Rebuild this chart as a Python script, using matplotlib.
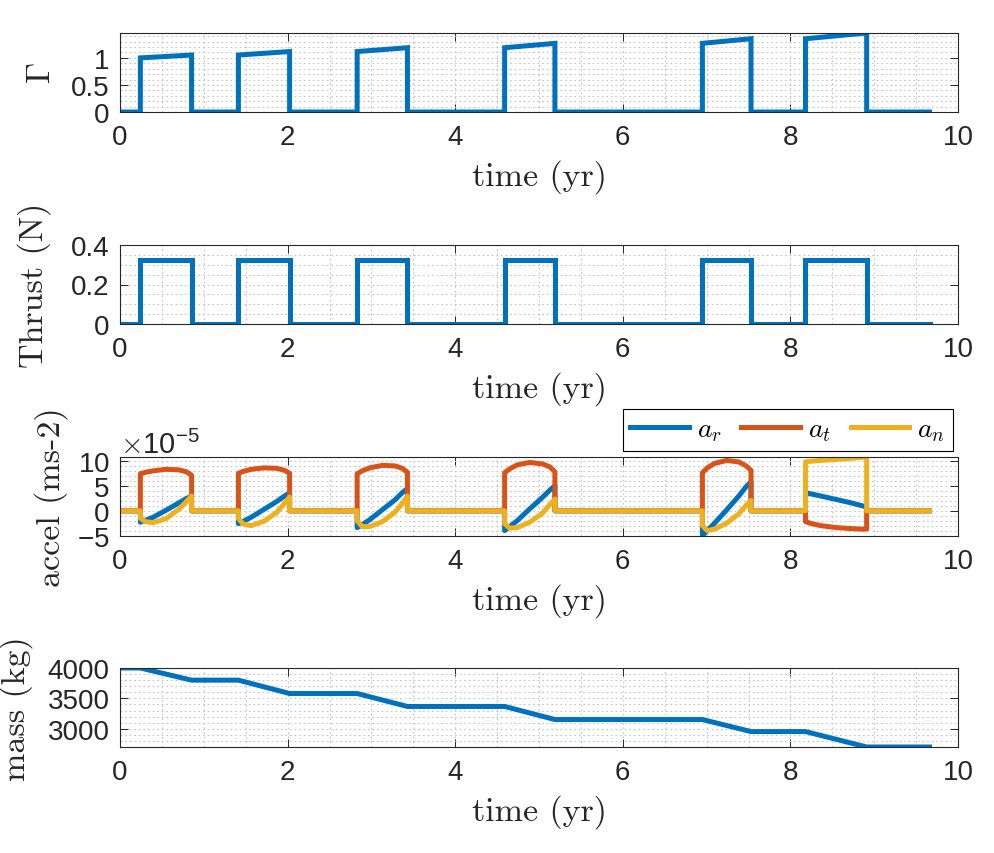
import matplotlib
matplotlib.use("Agg")
import matplotlib.pyplot as plt
from matplotlib.ticker import MultipleLocator, FixedLocator, ScalarFormatter, FuncFormatter
import numpy as np

# ---------------- data ----------------
burn_start = [0.243, 1.413, 2.83, 4.59, 6.95, 8.18]
burn_end = [0.854, 2.024, 3.43, 5.19, 7.53, 8.91]
t_final = 9.66

gamma_start = [1.00, 1.053, 1.117, 1.188, 1.269, 1.354]
gamma_end = [1.053, 1.117, 1.188, 1.269, 1.354, 1.46]

thrust_on = [0.325, 0.325, 0.325, 0.325, 0.325, 0.325]

mass_levels = [4000, 3800, 3580, 3367, 3152, 2954, 2700]

# accelerations (x1e-5 m/s^2) sampled at fractions of each burn
burn_frac = [0.0, 0.1, 0.25, 0.5, 0.75, 0.9, 1.0]
a_r = [
    [-2.3, -1.9, -1.3, 0.1, 1.6, 2.5, 3.0],
    [-2.6, -2.1, -1.3, 0.3, 1.9, 3.0, 3.6],
    [-3.4, -2.8, -1.8, 0.2, 2.2, 3.7, 4.5],
    [-4.0, -3.2, -2.0, 0.4, 2.7, 4.2, 5.1],
    [-5.0, -4.0, -2.5, 0.2, 3.0, 4.9, 5.9],
    [3.7, 3.4, 3.0, 2.3, 1.6, 1.1, 0.8],
]
a_t = [
    [7.5, 7.8, 8.1, 8.4, 8.3, 7.9, 7.2],
    [7.6, 8.0, 8.4, 8.7, 8.6, 8.2, 7.6],
    [7.5, 8.1, 8.7, 9.2, 9.1, 8.6, 7.8],
    [7.7, 8.5, 9.3, 9.8, 9.5, 8.9, 7.9],
    [7.7, 8.7, 9.6, 10.2, 9.9, 9.1, 8.2],
    [-2.2, -2.6, -3.0, -3.4, -3.6, -3.7, -3.7],
]
a_n = [
    [-1.5, -2.2, -2.4, -1.6, 0.3, 1.9, 3.0],
    [-1.6, -2.7, -3.0, -2.1, -0.3, 1.5, 2.8],
    [-2.0, -3.2, -3.2, -2.2, -0.3, 1.5, 3.0],
    [-2.6, -3.5, -3.4, -2.3, -0.5, 1.3, 2.4],
    [-3.0, -4.0, -3.7, -2.5, -0.6, 1.1, 2.1],
    [9.9, 10.05, 10.2, 10.4, 10.65, 10.8, 10.9],
]
accel_scale = 1e-5
accel_labels = [r"$a_r$", r"$a_t$", r"$a_n$"]

xticks = [0, 2, 4, 6, 8, 10]

# ---------------- build series ----------------
def step_series(on_start, on_end, off=0.0):
    t, y = [0.0], [off]
    for s, e, v0, v1 in zip(burn_start, burn_end, on_start, on_end):
        t += [s, s, e, e]
        y += [off, v0, v1, off]
    t.append(t_final)
    y.append(off)
    return np.array(t), np.array(y)

def mass_series():
    t, y = [0.0], [mass_levels[0]]
    for i, (s, e) in enumerate(zip(burn_start, burn_end)):
        t += [s, e]
        y += [mass_levels[i], mass_levels[i + 1]]
    t.append(t_final)
    y.append(mass_levels[-1])
    return np.array(t), np.array(y)

def accel_series(vals):
    t, y = [0.0], [0.0]
    for s, e, v in zip(burn_start, burn_end, vals):
        t.append(s)
        y.append(0.0)
        for f, a in zip(burn_frac, v):
            t.append(s + f * (e - s))
            y.append(a * accel_scale)
        t.append(e)
        y.append(0.0)
    t.append(t_final)
    y.append(0.0)
    return np.array(t), np.array(y)

# ---------------- style ----------------
plt.rcParams["font.family"] = ["Liberation Sans", "DejaVu Sans"]
plt.rcParams["mathtext.fontset"] = "cm"
plt.rcParams["axes.unicode_minus"] = False

blue = "#0072BD"
orange = "#D95319"
yellow = "#EDB120"
axcol = "#262626"
LW = 3.6
TICK_FS = 20
LAB_FS = 24.5

fig = plt.figure(figsize=(9.94, 8.54), dpi=100)
W, H = 994, 854
left = 120 / W
width = 838 / W
height = 79 / H
tops = [34, 246, 458, 669]
axes = [fig.add_axes([left, 1 - (tp + 79) / H, width, height]) for tp in tops]

def style(ax, ylim, ymaj, ymin_step, ylabel, label_x, fmt=None):
    ax.set_xlim(0, 10)
    ax.set_ylim(*ylim)
    ax.xaxis.set_major_locator(FixedLocator(xticks))
    ax.xaxis.set_minor_locator(MultipleLocator(0.5))
    ax.yaxis.set_major_locator(FixedLocator(ymaj))
    ax.yaxis.set_minor_locator(MultipleLocator(ymin_step))
    if fmt is not None:
        ax.yaxis.set_major_formatter(fmt)
    ax.set_xticklabels([str(v) for v in xticks])
    ax.tick_params(which="major", direction="in", length=5.5, width=0.7,
                   top=True, right=True, colors=axcol, labelsize=TICK_FS)
    ax.tick_params(axis="x", which="major", pad=8.5)
    ax.tick_params(axis="y", which="major", pad=7.5)
    ax.tick_params(which="minor", length=0, top=True, right=True)
    for sp in ax.spines.values():
        sp.set_color(axcol)
        sp.set_linewidth(0.8)
    ax.grid(True, which="both", color="#c4c4c4", linestyle=(0, (1.6, 2.8)),
            linewidth=0.75)
    ax.set_axisbelow(True)
    ax.set_xlabel("time (yr)", fontfamily="cmr10", fontsize=LAB_FS, color=axcol)
    ax.xaxis.set_label_coords(0.5, -0.60)
    ax.set_ylabel(ylabel, fontsize=LAB_FS, color=axcol,
                  fontfamily="cmr10" if not ylabel.startswith("$") else None)
    ax.yaxis.set_label_coords(label_x, 0.5)

# Panel 1: Gamma
ax = axes[0]
t, y = step_series(gamma_start, gamma_end)
ax.plot(t, y, color=blue, lw=LW, solid_joinstyle="miter")
style(ax, (0, 1.46), [0, 0.5, 1], 0.1, r"$\Gamma$", -0.075,
      FuncFormatter(lambda v, p: {0: "0", 0.5: "0.5", 1: "1"}.get(round(v, 2), f"{v:g}")))

# Panel 2: Thrust
ax = axes[1]
t, y = step_series(thrust_on, thrust_on)
ax.plot(t, y, color=blue, lw=LW, solid_joinstyle="miter")
style(ax, (0, 0.4), [0, 0.2, 0.4], 0.05, "Thrust (N)", -0.082,
      FuncFormatter(lambda v, p: f"{v:g}"))

# Panel 3: accelerations
ax = axes[2]
for vals, c, lab in zip([a_r, a_t, a_n], [blue, orange, yellow], accel_labels):
    t, y = accel_series(vals)
    ax.plot(t, y, color=c, lw=LW, label=lab)
sf = ScalarFormatter(useMathText=True)
sf.set_powerlimits((-5, -5))
style(ax, (-5.1e-5, 10.9e-5), [-5e-5, 0, 5e-5, 10e-5], 1e-5, "accel (ms-2)", -0.062, sf)
ax.yaxis.get_offset_text().set_fontsize(TICK_FS + 1)
ax.yaxis.get_offset_text().set_color(axcol)
leg = ax.legend(loc="lower right", bbox_to_anchor=(0.994, 1.076), ncol=3,
                fontsize=20, frameon=True, fancybox=False, framealpha=1,
                edgecolor="#000000", borderaxespad=0, handlelength=2.1,
                handletextpad=0.3, columnspacing=0.7, borderpad=0.28)
leg.get_frame().set_linewidth(0.8)

# Panel 4: mass
ax = axes[3]
t, y = mass_series()
ax.plot(t, y, color=blue, lw=LW)
style(ax, (2700, 4000), [3000, 3500, 4000], 100, "mass (kg)", -0.104,
      FuncFormatter(lambda v, p: f"{v:.0f}"))

fig.savefig("out.png", dpi=100)
